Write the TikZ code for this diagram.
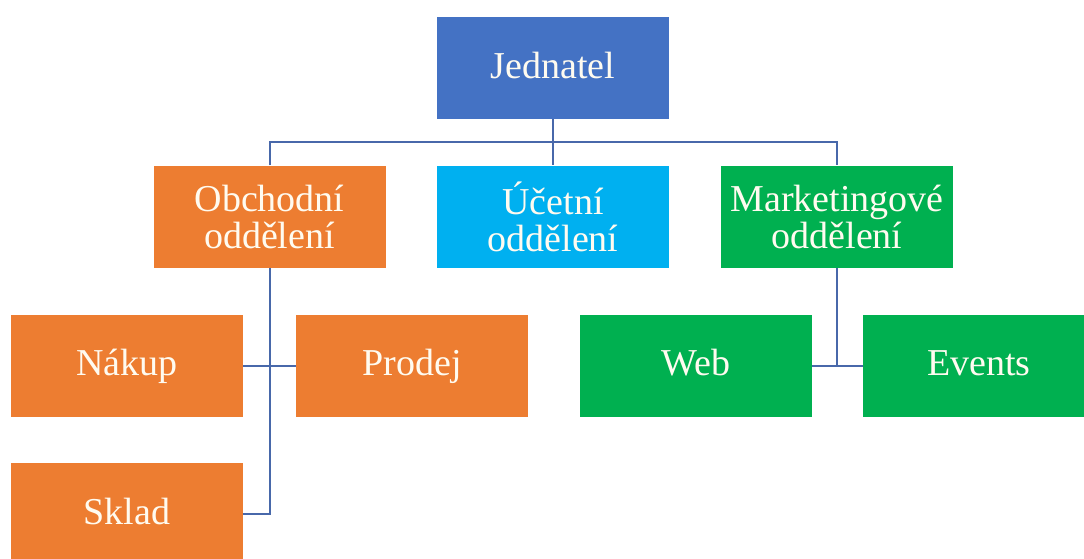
\documentclass[tikz,border=0pt]{standalone}
\usepackage{fontspec}
\setmainfont{Liberation Serif}
\definecolor{headblue}{HTML}{4472C4}
\definecolor{salesorange}{HTML}{ED7D31}
\definecolor{acctcyan}{HTML}{00B0F0}
\definecolor{mktgreen}{HTML}{00B050}
\definecolor{linkblue}{HTML}{4868AA}
\definecolor{labelwhite}{HTML}{FFFBF0}
\tikzset{
  unit/.style={rectangle, minimum width=232pt, minimum height=102pt, inner sep=0pt,
    text=labelwhite, align=center, font=\fontsize{38}{37}\selectfont},
  oneline/.style={unit, text height=28pt, text depth=8pt},
  link/.style={draw=linkblue, line width=2pt}
}
\begin{document}
\begin{tikzpicture}[x=1pt, y=1pt]
\useasboundingbox (0,0) rectangle (1084,-558);

\node[oneline, fill=headblue] (jed) at (553,-68) {Jednatel};

\node[unit, fill=salesorange] (obch) at (269.5,-216.5) {Obchodní\\oddělení};
\node[unit, fill=acctcyan] (ucet) at (553,-216.5) {Účetní\\oddělení};
\node[unit, fill=mktgreen] (mark) at (837,-216.5) {Marketingové\\oddělení};

\node[oneline, fill=salesorange] (nakup) at (127,-365.5) {Nákup};
\node[oneline, fill=salesorange] (prodej) at (412,-365.5) {Prodej};
\node[oneline, fill=salesorange] (sklad) at (127,-514) {Sklad};
\node[oneline, fill=mktgreen] (web) at (696,-365.5) {Web};
\node[oneline, fill=mktgreen] (events) at (979,-365.5) {Events};

\coordinate (hub) at (553,-142);
\draw[link] (jed.south) -- (ucet.north);
\draw[link] (obch.north) |- (hub) -| (mark.north);

\draw[link] (obch.south) |- (sklad.east);
\draw[link] (nakup.east) -- (prodej.west);

\draw[link] (mark.south) -- (mark.south |- web.east);
\draw[link] (web.east) -- (events.west);
\end{tikzpicture}
\end{document}
